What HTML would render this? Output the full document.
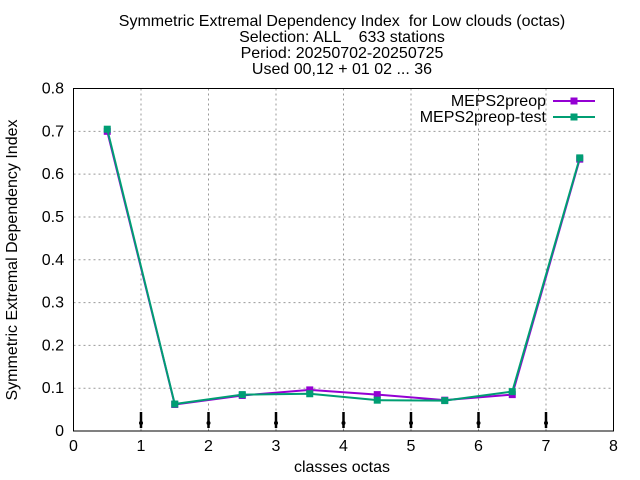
<!DOCTYPE html>
<html><head><meta charset="utf-8"><style>
body{margin:0;background:#fff}
svg{font-family:"Liberation Sans",sans-serif;display:block}
text{white-space:pre}
</style></head><body>
<svg id="chart" width="640" height="480">
<g font-size="16" text-anchor="middle" fill="#000">
<text x="342" y="26">Symmetric Extremal Dependency Index  for Low clouds (octas)</text>
<text x="342" y="42">Selection: ALL    633 stations</text>
<text x="342" y="58">Period: 20250702-20250725</text>
<text x="342" y="74">Used 00,12 + 01 02 ... 36</text>
</g>
<g id="grid"></g>
<g id="ticks"></g>
<rect x="73.5" y="88.5" width="540" height="342.5" fill="none" stroke="#000"/>
<text x="342" y="472" font-size="16" text-anchor="middle">classes octas</text>
<text transform="translate(17,260) rotate(-90)" font-size="16" text-anchor="middle">Symmetric Extremal Dependency Index</text>
<g id="marks"></g>
<g id="series"></g>
<g font-size="16" text-anchor="end">
<g>
<text x="546" y="106">MEPS2preop</text>
<line x1="553" y1="101" x2="595" y2="101" stroke="#9400d3" stroke-width="2"/>
<rect x="570.5" y="97.5" width="7" height="7" fill="#9400d3"/></g>
<g>
<text x="546" y="122">MEPS2preop-test</text>
<line x1="553" y1="117" x2="595" y2="117" stroke="#009e73" stroke-width="2"/>
<rect x="570.5" y="113.5" width="7" height="7" fill="#009e73"/></g>
</g>
</svg>
<script>
const categories=[0.5,1.5,2.5,3.5,4.5,5.5,6.5,7.5];
const meps2preop=[0.700,0.062,0.083,0.096,0.085,0.072,0.085,0.635];
const meps2preopTest=[0.705,0.063,0.085,0.087,0.072,0.071,0.092,0.638];
const xTicks=[0,1,2,3,4,5,6,7,8];
const yTicks=[0,0.1,0.2,0.3,0.4,0.5,0.6,0.7,0.8];
const markX=[1,2,3,4,5,6,7];
const NS="http://www.w3.org/2000/svg";
const X=v=>73.5+v*67.5, Y=v=>431-v*428.1;
function mk(t,a,p){const e=document.createElementNS(NS,t);for(const k in a)e.setAttribute(k,a[k]);p.appendChild(e);return e;}
const grid=document.getElementById('grid'),ticks=document.getElementById('ticks');
xTicks.forEach(v=>{
 if(v>0&&v<8){const g=mk('line',{x1:X(v),x2:X(v),y1:88.5,y2:431,stroke:'#999','stroke-dasharray':'2,3','stroke-width':1},grid);
 
 }
 const t=mk('text',{x:X(v),y:451,'font-size':16,'text-anchor':'middle'},ticks);t.textContent=v;
 
 
});
yTicks.forEach(v=>{
 if(v>0&&v<0.8){const g=mk('line',{x1:73.5,x2:613.5,y1:Y(v),y2:Y(v),stroke:'#999','stroke-dasharray':'2,3','stroke-width':1},grid);
 
 }
 const t=mk('text',{x:64,y:Y(v)+5,'font-size':16,'text-anchor':'end'},ticks);t.textContent=v===0?'0':v.toFixed(1);
 
 
});
const marks=document.getElementById('marks');
markX.forEach(v=>{
 const l=mk('line',{x1:X(v),x2:X(v),y1:412,y2:428,stroke:'#000','stroke-width':2.5},marks);
 
 
 mk('circle',{cx:X(v),cy:423,r:2},marks);
});
const sg=document.getElementById('series');
[[meps2preop,'#9400d3','meps2preop'],[meps2preopTest,'#009e73','meps2preop-test']].forEach(([d,c,n])=>{
 const g=mk('g',{},sg);
 
 
 mk('polyline',{points:d.map((v,i)=>X(categories[i])+','+Y(v)).join(' '),fill:'none',stroke:c,'stroke-width':2},g);
 d.forEach((v,i)=>{const p=mk('rect',{x:X(categories[i])-3.5,y:Y(v)-3.5,width:7,height:7,fill:c},g);
 
 });
});
</script>
</body></html>
